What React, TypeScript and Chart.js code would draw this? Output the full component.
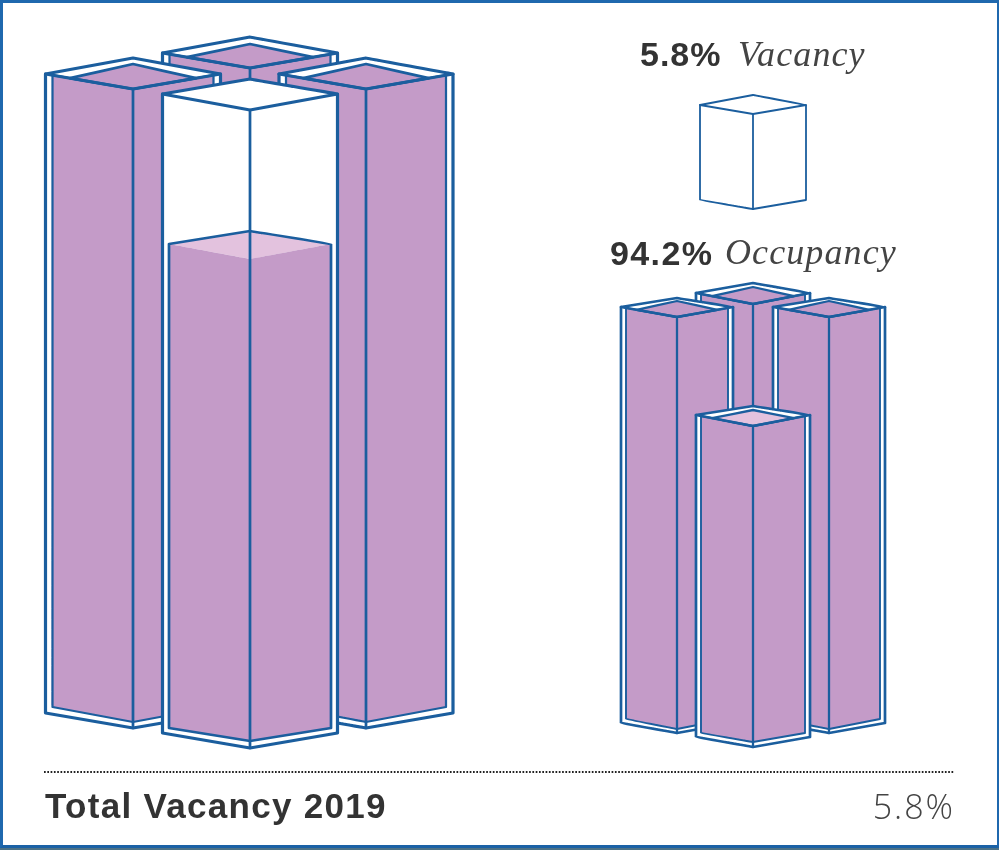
import React, { useEffect, useRef } from "react";
import { Chart, registerables } from "chart.js";

Chart.register(...registerables);

const headlineValues = ["5.8%", "94.2%"];
const headlineNames = ["Vacancy", "Occupancy"];
const footerLabel = "Total Vacancy 2019";
const footerValue = "5.8%";

// Towers, listed back to front: left group (all towers), then right group (occupied towers).
const towerCenterX = [250, 133, 366, 250, 753, 677, 829, 753];
const towerHalfWidth = [87.5, 87.5, 87, 87.5, 57, 56, 56, 57];
const towerApexY = [37, 58, 58, 79, 283, 298, 298, 406];
const towerShoulderY = [53, 74, 74, 94, 293, 307, 307, 415];
const towerFrontY = [68, 89, 89, 110, 304, 317, 317, 426];
const towerBaseShoulderY = [713, 713, 713, 733, 723, 723, 723, 737];
const towerBaseFrontY = [728, 728, 728, 748, 733, 733, 733, 747];
const towerInnerApexY = [44, 64, 64, 0, 287, 301, 301, 410];
const towerInnerBaseShoulderY = [707, 707, 707, 728, 719, 719, 719, 733];
const towerInnerBaseFrontY = [722, 722, 722, 741, 729, 729, 729, 742];
const towerRim = [7, 7, 7, 7, 5, 5, 5, 5];
const towerStroke = [3.2, 3.2, 3.2, 3.2, 2.7, 2.7, 2.7, 2.7];
const towerLightTop = [false, false, false, false, false, false, false, true];

// Level of the occupied part inside the large front tower.
const levelApexY = 231;
const levelShoulderY = 244;
const levelFrontY = 259;

// The single vacant unit.
const cubeCenterX = 753;
const cubeHalfWidth = 53;
const cubeApexY = 95;
const cubeShoulderY = 105;
const cubeFrontY = 114;
const cubeBaseShoulderY = 200;
const cubeBaseFrontY = 209;

const ruleX = [44, 954];
const ruleY = 772;

const BLUE = "#1b5e9e";
const PURPLE = "#c49bc8";
const LIGHT = "#e3c2de";
const WHITE = "#ffffff";
const NONE = "rgba(0,0,0,0)";

type P = { x: number; y: number };

function shape(points: P[], fillColor: string, stroke: string, width: number, extra: object = {}) {
  return {
    data: points,
    showLine: true,
    pointRadius: 0,
    pointHoverRadius: 0,
    tension: 1e-6,
    fill: fillColor === NONE ? false : "shape",
    backgroundColor: fillColor,
    borderColor: stroke,
    borderWidth: width,
    borderJoinStyle: "round",
    borderCapStyle: "round",
    clip: false,
    ...extra,
  };
}

function hex(cx: number, hw: number, apex: number, sh: number, bs: number, bf: number): P[] {
  return [
    { x: cx - hw, y: sh },
    { x: cx, y: apex },
    { x: cx + hw, y: sh },
    { x: cx + hw, y: bs },
    { x: cx, y: bf },
    { x: cx - hw, y: bs },
    { x: cx - hw, y: sh },
  ];
}

function edgeY(cx: number, hw: number, sh: number, front: number, x: number) {
  return front - (Math.abs(x - cx) * (front - sh)) / hw;
}

function towerDatasets(i: number) {
  const cx = towerCenterX[i];
  const hw = towerHalfWidth[i];
  const sh = towerShoulderY[i];
  const fr = towerFrontY[i];
  const w = towerStroke[i];
  const out: object[] = [];
  out.push(shape(hex(cx, hw, towerApexY[i], sh, towerBaseShoulderY[i], towerBaseFrontY[i]), WHITE, BLUE, w));

  if (i === 3) {
    const inner = hw - towerRim[i] + 0.5;
    out.push(shape([
      { x: cx - inner, y: levelShoulderY },
      { x: cx, y: levelApexY },
      { x: cx + inner, y: levelShoulderY },
      { x: cx, y: levelFrontY },
      { x: cx - inner, y: levelShoulderY },
    ], LIGHT, NONE, 0));
    const body = [
      { x: cx - inner, y: levelShoulderY },
      { x: cx, y: levelFrontY },
      { x: cx + inner, y: levelShoulderY },
      { x: cx + inner, y: towerInnerBaseShoulderY[i] },
      { x: cx, y: towerInnerBaseFrontY[i] },
      { x: cx - inner, y: towerInnerBaseShoulderY[i] },
      { x: cx - inner, y: levelShoulderY },
    ];
    out.push(shape(body, PURPLE, NONE, 0));
    out.push(shape(hex(cx, inner, levelApexY, levelShoulderY, towerInnerBaseShoulderY[i], towerInnerBaseFrontY[i]), NONE, BLUE, w * 0.85));
  } else {
    const rim = towerRim[i];
    const topCol = towerLightTop[i] ? LIGHT : PURPLE;
    const body = [
      { x: cx - hw + rim, y: edgeY(cx, hw, sh, fr, cx - hw + rim) },
      { x: cx, y: fr },
      { x: cx + hw - rim, y: edgeY(cx, hw, sh, fr, cx + hw - rim) },
      { x: cx + hw - rim, y: towerInnerBaseShoulderY[i] },
      { x: cx, y: towerInnerBaseFrontY[i] },
      { x: cx - hw + rim, y: towerInnerBaseShoulderY[i] },
      { x: cx - hw + rim, y: edgeY(cx, hw, sh, fr, cx - hw + rim) },
    ];
    out.push(shape(body, PURPLE, BLUE, w * 0.7));
    const reach = hw * 0.72;
    const edge = edgeY(cx, hw, sh, fr, cx - reach);
    out.push(shape([
      { x: cx - reach, y: edge },
      { x: cx, y: towerInnerApexY[i] },
      { x: cx + reach, y: edge },
      { x: cx, y: fr },
      { x: cx - reach, y: edge },
    ], topCol, BLUE, w * 0.85));
  }
  out.push(shape([
    { x: cx - hw, y: sh },
    { x: cx, y: fr },
    { x: cx + hw, y: sh },
  ], NONE, BLUE, w));
  out.push(shape([
    { x: cx, y: fr },
    { x: cx, y: towerBaseFrontY[i] },
  ], NONE, BLUE, w * 0.85));
  return out;
}

function buildDatasets() {
  const layers: object[] = [];
  towerCenterX.forEach((_, i) => layers.push(...towerDatasets(i)));
  layers.push(shape(hex(cubeCenterX, cubeHalfWidth, cubeApexY, cubeShoulderY, cubeBaseShoulderY, cubeBaseFrontY), WHITE, BLUE, 1.8));
  layers.push(shape([
    { x: cubeCenterX - cubeHalfWidth, y: cubeShoulderY },
    { x: cubeCenterX, y: cubeFrontY },
    { x: cubeCenterX + cubeHalfWidth, y: cubeShoulderY },
  ], NONE, BLUE, 1.8));
  layers.push(shape([
    { x: cubeCenterX, y: cubeFrontY },
    { x: cubeCenterX, y: cubeBaseFrontY },
  ], NONE, BLUE, 1.8));
  layers.push(shape(ruleX.map((x) => ({ x, y: ruleY })), NONE, "#222222", 2, {
    borderDash: [1.7, 1.6],
    borderCapStyle: "butt",
    tension: 0,
  }));
  return layers.reverse();
}

const sans = "'Liberation Sans', Roboto, sans-serif";
const light = "'Open Sans', Roboto, sans-serif";
const serif = "'Liberation Serif', serif";

function Label(props: { left?: number; right?: number; top: number; size: number; family: string; weight?: number; italic?: boolean; spacing?: number; color?: string; children: React.ReactNode }) {
  return (
    <div
      style={{
        position: "absolute",
        left: props.left,
        right: props.right,
        top: props.top,
        fontSize: props.size,
        lineHeight: `${props.size}px`,
        fontFamily: props.family,
        fontWeight: props.weight ?? 400,
        fontStyle: props.italic ? "italic" : "normal",
        letterSpacing: props.spacing ?? 0,
        color: props.color ?? "#333333",
        whiteSpace: "nowrap",
      }}
    >
      {props.children}
    </div>
  );
}

export default function App() {
  const ref = useRef<HTMLCanvasElement>(null);
  useEffect(() => {
    document.body.style.margin = "0";
    const chart = new Chart(ref.current!, {
      type: "scatter",
      data: { datasets: buildDatasets() as any },
      options: {
        animation: false,
        responsive: false,
        events: [],
        layout: { padding: 0 },
        scales: {
          x: { type: "linear", min: 0, max: 999, display: false },
          y: { type: "linear", min: 0, max: 850, reverse: true, display: false },
        },
        plugins: { legend: { display: false }, tooltip: { enabled: false }, title: { display: false } },
      },
    });
    return () => chart.destroy();
  }, []);

  return (
    <div style={{ position: "fixed", left: 0, top: 0, width: 999, height: 850, background: "#fff", overflow: "hidden" }}>
      <canvas ref={ref} width={999} height={850} style={{ position: "absolute", left: 0, top: 0, width: 999, height: 850 }} />
      <div style={{ position: "absolute", left: 0, top: 0, width: 999, height: 848, boxSizing: "border-box", borderTop: "3px solid #1f68ae", borderLeft: "3px solid #1f68ae", borderRight: "2px solid #1f68ae", borderBottom: "3px solid #1b62a6" }} />
      <div style={{ position: "absolute", left: 0, top: 848, width: 999, height: 2, background: "#4d7286" }} />
      <Label left={640} top={37} size={34} family={sans} weight={700} spacing={1}>{headlineValues[0]}</Label>
      <Label left={738} top={36} size={36} family={serif} italic spacing={1.1} color="#444444">{headlineNames[0]}</Label>
      <Label left={610} top={236} size={34} family={sans} weight={700} spacing={1.4}>{headlineValues[1]}</Label>
      <Label left={725} top={234} size={36} family={serif} italic spacing={1.1} color="#444444">{headlineNames[1]}</Label>
      <Label left={45} top={788} size={35} family={sans} weight={700} spacing={1.3}>{footerLabel}</Label>
      <Label right={44} top={789} size={34} family={light} weight={300} spacing={2} color="#444444">{footerValue}</Label>
    </div>
  );
}
